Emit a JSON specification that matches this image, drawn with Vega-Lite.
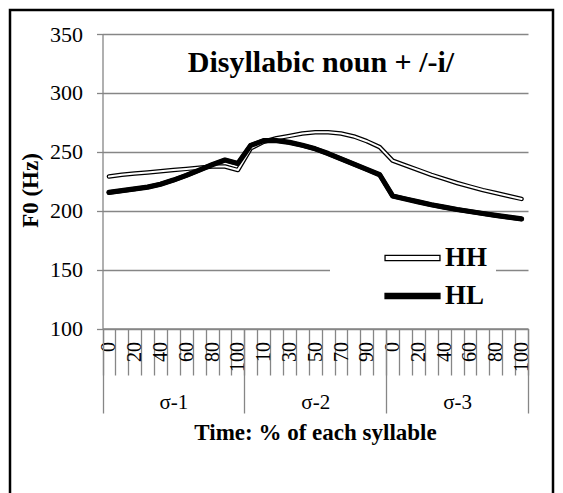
{
  "$schema": "https://vega.github.io/schema/vega-lite/v6.json",
  "width": 543,
  "height": 483,
  "autosize": {"type": "none"},
  "padding": {"left": 10, "top": 10, "right": 10, "bottom": 0},
  "background": "white",
  "config": {
    "font": "Liberation Serif, Times New Roman, DejaVu Serif, serif",
    "view": {"stroke": "black", "strokeWidth": 2.5, "strokeDash": [1026, 543, 483], "fill": "white"}
  },
  "title": {"text": "Disyllabic noun + /-i/", "frame": "group", "anchor": "middle", "orient": "top", "offset": 0, "baseline": "alphabetic", "dy": 92, "dx": 39.5, "fontSize": 30, "fontWeight": "bold", "font": "Liberation Serif, Times New Roman, DejaVu Serif, serif", "color": "black"},
  "data": {"values": [
    {"n":0,"series":"HH","f0":229},{"n":1,"series":"HH","f0":230.5},{"n":2,"series":"HH","f0":231.5},{"n":3,"series":"HH","f0":232.5},{"n":4,"series":"HH","f0":233.5},{"n":5,"series":"HH","f0":234.5},{"n":6,"series":"HH","f0":235.5},{"n":7,"series":"HH","f0":236.5},{"n":8,"series":"HH","f0":237.5},{"n":9,"series":"HH","f0":237.5},{"n":10,"series":"HH","f0":234.5},
    {"n":11,"series":"HH","f0":253},{"n":12,"series":"HH","f0":258.5},{"n":13,"series":"HH","f0":261.5},{"n":14,"series":"HH","f0":263.5},{"n":15,"series":"HH","f0":265.5},{"n":16,"series":"HH","f0":266.5},{"n":17,"series":"HH","f0":266.5},{"n":18,"series":"HH","f0":265.5},{"n":19,"series":"HH","f0":263},{"n":20,"series":"HH","f0":259},{"n":21,"series":"HH","f0":254},
    {"n":22,"series":"HH","f0":242.5},{"n":23,"series":"HH","f0":238.5},{"n":24,"series":"HH","f0":234.5},{"n":25,"series":"HH","f0":230.5},{"n":26,"series":"HH","f0":227},{"n":27,"series":"HH","f0":223.5},{"n":28,"series":"HH","f0":220.5},{"n":29,"series":"HH","f0":217.5},{"n":30,"series":"HH","f0":215},{"n":31,"series":"HH","f0":212.5},{"n":32,"series":"HH","f0":210},
    {"n":0,"series":"HL","f0":215.5},{"n":1,"series":"HL","f0":217},{"n":2,"series":"HL","f0":218.5},{"n":3,"series":"HL","f0":220},{"n":4,"series":"HL","f0":222.5},{"n":5,"series":"HL","f0":226},{"n":6,"series":"HL","f0":230},{"n":7,"series":"HL","f0":234.5},{"n":8,"series":"HL","f0":239},{"n":9,"series":"HL","f0":243},{"n":10,"series":"HL","f0":240},
    {"n":11,"series":"HL","f0":255.5},{"n":12,"series":"HL","f0":259.5},{"n":13,"series":"HL","f0":259.5},{"n":14,"series":"HL","f0":258},{"n":15,"series":"HL","f0":255.5},{"n":16,"series":"HL","f0":252.5},{"n":17,"series":"HL","f0":248.5},{"n":18,"series":"HL","f0":244},{"n":19,"series":"HL","f0":239.5},{"n":20,"series":"HL","f0":235},{"n":21,"series":"HL","f0":230.5},
    {"n":22,"series":"HL","f0":212.5},{"n":23,"series":"HL","f0":210},{"n":24,"series":"HL","f0":207.5},{"n":25,"series":"HL","f0":205},{"n":26,"series":"HL","f0":203},{"n":27,"series":"HL","f0":201},{"n":28,"series":"HL","f0":199.3},{"n":29,"series":"HL","f0":197.6},{"n":30,"series":"HL","f0":196},{"n":31,"series":"HL","f0":194.5},{"n":32,"series":"HL","f0":193}
  ]},
  "encoding": {
    "y": {"field": "f0", "type": "quantitative",
      "scale": {"domain": [100, 350], "range": [318.5, 24], "nice": false, "zero": false},
      "axis": {"title": "F0 (Hz)", "orient": "left", "offset": -92.5, "values": [100, 150, 200, 250, 300, 350],
        "grid": true, "gridColor": "#868686", "gridWidth": 1.3,
        "domainColor": "#868686", "domainWidth": 1.3, "tickColor": "#868686", "tickWidth": 1.3, "tickSize": 6,
        "labelFont": "Liberation Serif, Times New Roman, DejaVu Serif, serif", "labelFontSize": 22, "labelColor": "black", "labelPadding": 14, "labelFlush": false, "labelOverlap": false,
        "titleFont": "Liberation Serif, Times New Roman, DejaVu Serif, serif", "titleFontSize": 23, "titleFontWeight": "bold", "titleColor": "black",
        "titleX": -72.5, "titleY": 180, "titleAngle": -90, "titleAlign": "center", "titleBaseline": "middle"}}
  },
  "layer": [
    {
      "mark": {"type": "line", "strokeWidth": 4.5, "strokeCap": "round", "strokeJoin": "round"},
      "encoding": {
        "x": {"field": "n", "type": "ordinal", "bandPosition": 0.5,
          "scale": {"type": "band", "range": [92.5, 518], "paddingInner": 0, "paddingOuter": 0},
          "axis": {"orient": "bottom", "offset": -164.5, "title": null, "tickBand": "extent", "tickSize": 46.5,
            "tickColor": "#868686", "tickWidth": 1.3, "domainColor": "#868686", "domainWidth": 1.3, "grid": false,
            "labelAngle": -90, "labelExpr": "datum.value % 2 === 0 ? '' + (datum.value % 11) * 10 : ''",
            "labelFont": "Liberation Serif, Times New Roman, DejaVu Serif, serif", "labelFontSize": 20, "labelColor": "black", "labelPadding": -33.5, "labelOverlap": false, "labelFlush": false}},
        "color": {"field": "series", "type": "nominal",
          "scale": {"domain": ["HH", "HL"], "range": ["black", "black"]},
          "legend": {"orient": "none", "legendX": 320, "legendY": 224, "title": null, "zindex": 2,
            "symbolType": "M-1.83,-0.18L1.83,-0.18L1.83,0.18L-1.83,0.18Z", "symbolSize": 900, "symbolOffset": 58.5,
            "padding": 8, "fillColor": "white", "rowPadding": 9,
            "labelFont": "Liberation Serif, Times New Roman, DejaVu Serif, serif", "labelFontSize": 27, "labelFontWeight": "bold", "labelColor": "black", "labelOffset": 16.5,
            "labelExpr": "datum.label + '\u00a0\u00a0\u00a0\u00a0\u00a0\u00a0'",
            "encode": {"symbols": {"update": {"fill": {"signal": "datum.value === 'HH' ? 'white' : 'black'"}, "stroke": {"value": "black"}, "strokeWidth": {"value": 1.3}, "opacity": {"value": 1}}}}}}
      }
    },
    {
      "transform": [{"filter": "datum.series === 'HH'"}],
      "mark": {"type": "line", "color": "white", "strokeWidth": 2, "strokeCap": "round", "strokeJoin": "round"},
      "encoding": {
        "x": {"field": "n", "type": "ordinal", "bandPosition": 0.5,
          "scale": {"type": "band", "range": [92.5, 518], "paddingInner": 0, "paddingOuter": 0},
          "axis": {"orient": "bottom", "offset": -164.5, "title": "Time: % of each syllable", "tickBand": "extent", "tickSize": 84.5,
            "tickColor": "#868686", "tickWidth": 1.3,
            "tickOpacity": {"condition": {"test": "datum.extra || datum.value === 10 || datum.value === 21 || datum.value === 32", "value": 1}, "value": 0},
            "domain": false, "grid": false, "labelAngle": 0,
            "labelExpr": "datum.value === 5 ? 'σ-1' : datum.value === 16 ? 'σ-2' : datum.value === 27 ? 'σ-3' : ''",
            "labelFont": "Liberation Serif, Times New Roman, DejaVu Serif, serif", "labelFontSize": 21, "labelColor": "black", "labelBaseline": "middle", "labelPadding": -11, "labelOverlap": false, "labelFlush": false,
            "titleFont": "Liberation Serif, Times New Roman, DejaVu Serif, serif", "titleFontSize": 23, "titleFontWeight": "bold", "titleColor": "black",
            "titleX": 305, "titleY": 103.5, "titleAlign": "center", "titleBaseline": "middle"}}
      }
    },
    {
      "transform": [{"filter": "datum.series === 'HL'"}],
      "mark": {"type": "line", "color": "black", "strokeWidth": 5.2, "strokeCap": "round", "strokeJoin": "round"},
      "encoding": {
        "x": {"field": "n", "type": "ordinal", "bandPosition": 0.5,
          "scale": {"type": "band", "range": [92.5, 518], "paddingInner": 0, "paddingOuter": 0},
          "axis": null}
      }
    }
  ],
  "resolve": {"axis": {"x": "independent"}}
}
